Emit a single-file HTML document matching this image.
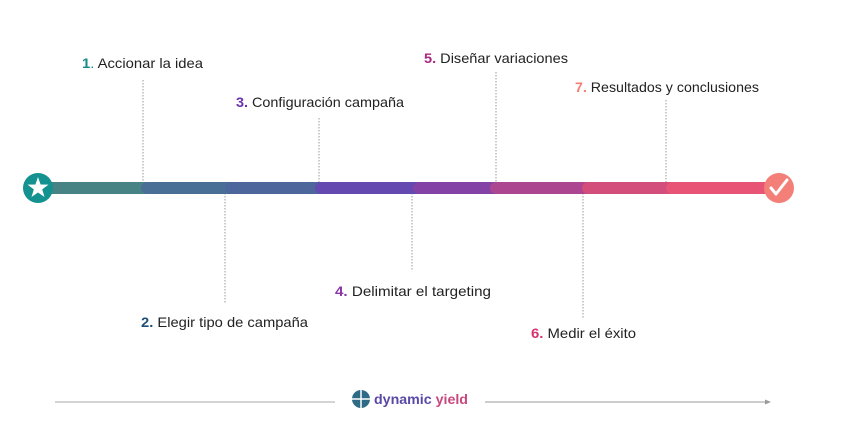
<!DOCTYPE html>
<html><head><meta charset="utf-8"><style>
html,body{margin:0;padding:0;background:#fff;}
svg{display:block}
text{font-family:"Liberation Sans",sans-serif;font-size:14px;fill:#222;}
</style></head><body>
<svg width="850" height="436" viewBox="0 0 850 436" xmlns="http://www.w3.org/2000/svg">
<g stroke="#999" stroke-width="1" stroke-dasharray="1.5,1.5">
<line x1="143" y1="80" x2="143" y2="184"/>
<line x1="319" y1="118" x2="319" y2="184"/>
<line x1="496" y1="72" x2="496" y2="184"/>
<line x1="666" y1="100" x2="666" y2="184"/>
<line x1="225" y1="193" x2="225" y2="303"/>
<line x1="412" y1="193" x2="412" y2="270"/>
<line x1="583" y1="193" x2="583" y2="318"/>
</g>
<rect x="40" y="182" width="730" height="12" fill="#478385"/>
<g>
<rect x="141" y="182" width="100" height="12" rx="6" fill="#4a6f96"/>
<rect x="225" y="182" width="110" height="12" rx="6" fill="#4d669c"/>
<rect x="315" y="182" width="110" height="12" rx="6" fill="#6349b0"/>
<rect x="413" y="182" width="100" height="12" rx="6" fill="#8342a6"/>
<rect x="490" y="182" width="110" height="12" rx="6" fill="#ad4690"/>
<rect x="582" y="182" width="100" height="12" rx="6" fill="#d44e7b"/>
<rect x="666" y="182" width="106" height="12" rx="6" fill="#e85475"/>
</g>
<circle cx="38" cy="188" r="15" fill="#13928f"/>
<polygon points="38,177 40.6,184.5 48.5,184.6 42.2,189.4 44.5,197 38,192.5 31.5,197 33.8,189.4 27.5,184.6 35.4,184.5" fill="#fff"/>
<circle cx="779" cy="188" r="15" fill="#f47f78"/>
<polyline points="771,188 776,194 787,180" fill="none" stroke="#fff" stroke-width="3" stroke-linecap="round" stroke-linejoin="round"/>
<text x="82" y="68" textLength="121" lengthAdjust="spacingAndGlyphs"><tspan fill="#138b8b" font-weight="bold">1</tspan><tspan fill="#138b8b">.</tspan> Accionar la idea</text>
<text x="236" y="107" textLength="168" lengthAdjust="spacingAndGlyphs"><tspan fill="#6a30b0" font-weight="bold">3.</tspan> Configuración campaña</text>
<text x="424" y="63" textLength="144" lengthAdjust="spacingAndGlyphs"><tspan fill="#a8277f" font-weight="bold">5.</tspan> Diseñar variaciones</text>
<text x="575" y="92" textLength="184" lengthAdjust="spacingAndGlyphs"><tspan fill="#f47c72" font-weight="bold">7.</tspan> Resultados y conclusiones</text>
<text x="141" y="327" textLength="167" lengthAdjust="spacingAndGlyphs"><tspan fill="#1b4f7a" font-weight="bold">2.</tspan> Elegir tipo de campaña</text>
<text x="335" y="296" textLength="156" lengthAdjust="spacingAndGlyphs"><tspan fill="#8a35a8" font-weight="bold">4.</tspan> Delimitar el targeting</text>
<text x="531" y="338" textLength="105" lengthAdjust="spacingAndGlyphs"><tspan fill="#d6336f" font-weight="bold">6.</tspan> Medir el éxito</text>
<line x1="55" y1="402" x2="335" y2="402" stroke="#aaa" stroke-width="1"/>
<line x1="485" y1="402" x2="766" y2="402" stroke="#999" stroke-width="1"/>
<polygon points="771,402 765,399.5 765,404.5" fill="#999"/>
<circle cx="361" cy="399" r="9" fill="#2f6a86"/>
<line x1="352" y1="399" x2="370" y2="399" stroke="#fff" stroke-width="1.5"/>
<line x1="361" y1="390" x2="361" y2="408" stroke="#fff" stroke-width="1.5"/>
<text x="374" y="404" style="font-size:14px;font-weight:bold" fill="#6a3fae" textLength="94" lengthAdjust="spacingAndGlyphs"><tspan fill="#5a48a8">dynamic</tspan> <tspan fill="#c8487e">yield</tspan></text>
</svg>
</body></html>
